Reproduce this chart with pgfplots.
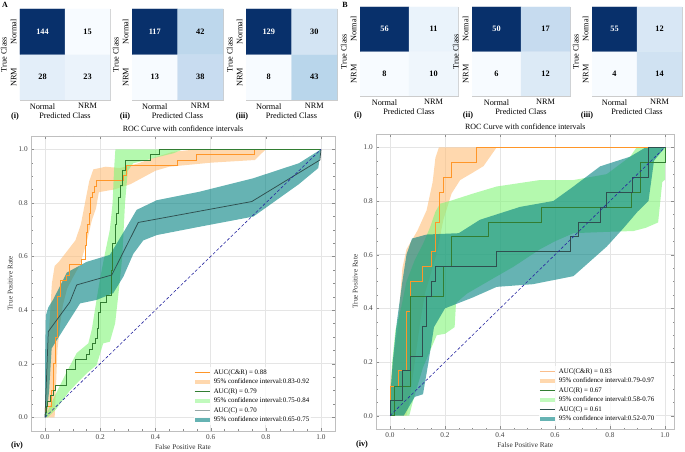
\documentclass[border=0pt]{standalone}
\usepackage{pgfplots}
\pgfplotsset{compat=1.18}
\usepackage{fontspec}
\setmainfont{Liberation Serif}
\definecolor{cOrange}{RGB}{255,150,40}
\definecolor{cOrangeBand}{RGB}{255,190,120}
\definecolor{cGreen}{RGB}{50,125,50}
\definecolor{cGreenBand}{RGB}{130,245,120}
\definecolor{cTeal}{RGB}{47,79,79}
\definecolor{cTealBand}{RGB}{0,128,128}
\definecolor{cDiag}{RGB}{40,40,160}
\definecolor{lOrangeBand}{RGB}{255,216,174}
\definecolor{lGreenBand}{RGB}{193,250,189}
\definecolor{lTealBand}{RGB}{102,179,179}
\definecolor{lOrangeB}{RGB}{250,190,140}
\pgfplotsset{
 colormap={blues}{rgb255=(247,251,255) rgb255=(222,235,247) rgb255=(198,219,239) rgb255=(158,202,225) rgb255=(107,174,214) rgb255=(66,146,198) rgb255=(33,113,181) rgb255=(8,81,156) rgb255=(8,48,107)},
 cm/.style={scale only axis, anchor=south west, xmin=-0.5,xmax=1.5,ymin=-0.5,ymax=1.5,
   xtick={0,1}, xticklabels={Normal,NRM}, ytick={0,1}, yticklabels={NRM,Normal},
   yticklabel style={rotate=90, anchor=south},
   xlabel={Predicted Class}, ylabel={True Class}, colormap name=blues,
   axis line style={black!20}, major tick style={draw=none},
   tick label style={font=\fontsize{8.3}{9}\selectfont},
   label style={font=\fontsize{8.3}{9}\selectfont},
   xlabel style={yshift=3pt}, ylabel style={yshift=-3pt}, enlargelimits=false},
 cmnum/.style={draw=none, mark=none, point meta=explicit symbolic, nodes near coords,
   nodes near coords align=center,
   every node near coord/.append style={font=\bfseries\fontsize{8.3}{9}\selectfont, text=#1}},
 roc/.style={scale only axis, anchor=south west, xmin=-0.05, ymin=-0.05, ymax=1.05,
   xtick={0,0.2,0.4,0.6,0.8,1}, ytick={0,0.2,0.4,0.6,0.8,1},
   xticklabels={0.0,0.2,0.4,0.6,0.8,1.0}, yticklabels={0.0,0.2,0.4,0.6,0.8,1.0},
   minor tick num=3, tick align=inside, grid=major,
   major grid style={black!10, line width=0.7pt}, axis line style={black!25},
   tick style={black!45}, major tick length=3pt, minor tick length=1.6pt,
   tick label style={font=\fontsize{7.3}{8}\selectfont, text=black!75},
   label style={font=\fontsize{7.3}{8}\selectfont, text=black!80},
   xlabel style={yshift=2pt}, ylabel style={yshift=-1pt},
   xlabel={False Positive Rate}, ylabel={True Positive Rate},
   title={ROC Curve with confidence intervals}, title style={font=\fontsize{8}{9}\selectfont, yshift=-5pt},
   legend cell align=left,
   legend style={draw=none, fill=white, fill opacity=0.8, text opacity=1, anchor=south west,
     font=\fontsize{6.9}{7.5}\selectfont, inner sep=0.5pt, nodes={inner sep=1.6pt},
     /tikz/every odd column/.append style={column sep=1.5pt}}},
 band/.style={forget plot, draw=none, fill=#1, fill opacity=0.6},
 rline/.style={forget plot, #1, line width=0.75pt},
}
\newcommand{\bandlegend}[1]{\addlegendimage{legend image code/.code={\fill[#1, fill opacity=1, draw=none] (0cm,-0.085cm) rectangle (0.55cm,0.085cm);}}}
\newcommand{\linelegend}[1]{\addlegendimage{legend image code/.code={\draw[color=#1, line width=0.75pt] (0cm,0cm) -- (0.55cm,0cm);}}}
\begin{document}
\begin{tikzpicture}
\path[use as bounding box] (0,0) rectangle (685bp,452bp);
% ---------- A confusion matrices ----------
\begin{axis}[cm, at={(20bp,352bp)}, width=90bp, height=91bp, point meta min=15, point meta max=144]
\addplot[matrix plot*, mesh/cols=2, point meta=explicit] coordinates {(0,0) [28] (1,0) [23] (0,1) [144] (1,1) [15]};
\addplot[cmnum=white] coordinates {(0,1) [144]};
\addplot[cmnum=black] coordinates {(1,1) [15] (0,0) [28] (1,0) [23]};
\end{axis}
\begin{axis}[cm, at={(132bp,352bp)}, width=91bp, height=91bp, point meta min=13, point meta max=117]
\addplot[matrix plot*, mesh/cols=2, point meta=explicit] coordinates {(0,0) [13] (1,0) [38] (0,1) [117] (1,1) [42]};
\addplot[cmnum=white] coordinates {(0,1) [117]};
\addplot[cmnum=black] coordinates {(1,1) [42] (0,0) [13] (1,0) [38]};
\end{axis}
\begin{axis}[cm, at={(246bp,352bp)}, width=91bp, height=91bp, point meta min=8, point meta max=129]
\addplot[matrix plot*, mesh/cols=2, point meta=explicit] coordinates {(0,0) [8] (1,0) [43] (0,1) [129] (1,1) [30]};
\addplot[cmnum=white] coordinates {(0,1) [129]};
\addplot[cmnum=black] coordinates {(1,1) [30] (0,0) [8] (1,0) [43]};
\end{axis}
% ---------- B confusion matrices ----------
\begin{axis}[cm, at={(360bp,356bp)}, width=98bp, height=89bp, point meta min=8, point meta max=56]
\addplot[matrix plot*, mesh/cols=2, point meta=explicit] coordinates {(0,0) [8] (1,0) [10] (0,1) [56] (1,1) [11]};
\addplot[cmnum=white] coordinates {(0,1) [56]};
\addplot[cmnum=black] coordinates {(1,1) [11] (0,0) [8] (1,0) [10]};
\end{axis}
\begin{axis}[cm, at={(472bp,356bp)}, width=98bp, height=89bp, point meta min=6, point meta max=50]
\addplot[matrix plot*, mesh/cols=2, point meta=explicit] coordinates {(0,0) [6] (1,0) [12] (0,1) [50] (1,1) [17]};
\addplot[cmnum=white] coordinates {(0,1) [50]};
\addplot[cmnum=black] coordinates {(1,1) [17] (0,0) [6] (1,0) [12]};
\end{axis}
\begin{axis}[cm, at={(592bp,356bp)}, width=90bp, height=89bp, point meta min=4, point meta max=55]
\addplot[matrix plot*, mesh/cols=2, point meta=explicit] coordinates {(0,0) [4] (1,0) [14] (0,1) [55] (1,1) [12]};
\addplot[cmnum=white] coordinates {(0,1) [55]};
\addplot[cmnum=black] coordinates {(1,1) [12] (0,0) [4] (1,0) [14]};
\end{axis}
% ---------- A ROC ----------
\begin{axis}[roc, at={(31.2bp,21.3bp)}, width=303.6bp, height=294.8bp, xmax=1.05,
  legend style={at={(0.535,0.018)}}]
\addplot[band=cOrangeBand] coordinates {(0,0) (0.003,0.1) (0.01,0.25) (0.018,0.38) (0.025,0.5) (0.035,0.565) (0.05,0.58) (0.08,0.62) (0.11,0.66) (0.13,0.72) (0.145,0.80) (0.16,0.88) (0.175,0.925) (0.22,0.935) (0.27,0.93) (0.33,0.945) (0.40,0.97) (0.46,0.99) (0.55,1.0) (0.8,1.0)
 (0.76,0.96) (0.60,0.95) (0.45,0.935) (0.40,0.92) (0.31,0.87) (0.25,0.85) (0.195,0.84) (0.185,0.78) (0.17,0.736) (0.15,0.65) (0.127,0.57) (0.10,0.52) (0.08,0.48) (0.065,0.42) (0.055,0.35) (0.045,0.25) (0.04,0.12) (0.035,0.0)};
\addplot[band=cGreenBand] coordinates {(0,0) (0.006,0.015) (0.04,0.09) (0.079,0.17) (0.115,0.24) (0.157,0.276) (0.17,0.33) (0.187,0.44) (0.20,0.52) (0.217,0.61) (0.235,0.70) (0.245,0.80) (0.25,0.92) (0.255,1.0) (0.5,1.0)
 (0.465,0.985) (0.405,0.97) (0.368,0.96) (0.32,0.948) (0.30,0.92) (0.29,0.8) (0.28,0.6) (0.265,0.45) (0.254,0.35) (0.235,0.282) (0.211,0.276) (0.187,0.195) (0.151,0.164) (0.09,0.10) (0.04,0.03) (0.01,0.0)};
\addplot[band=cTealBand] coordinates {(0,0) (0.0,0.2) (0.003,0.38) (0.012,0.41) (0.03,0.44) (0.079,0.54) (0.151,0.58) (0.235,0.606) (0.29,0.70) (0.332,0.774) (0.405,0.81) (0.561,0.842) (0.755,0.892) (0.92,0.948) (1,1)
 (0.99,0.93) (0.92,0.87) (0.755,0.749) (0.56,0.711) (0.405,0.68) (0.356,0.66) (0.32,0.61) (0.284,0.525) (0.247,0.463) (0.187,0.438) (0.127,0.425) (0.066,0.326) (0.024,0.257) (0.015,0.1) (0.005,0.0)};
\addplot[rline=cOrange] coordinates {(0,0) (0,0.04) (0.024,0.04) (0.024,0.1) (0.03,0.1) (0.03,0.2) (0.036,0.2) (0.036,0.3) (0.045,0.3) (0.045,0.45) (0.055,0.45) (0.055,0.51) (0.079,0.51) (0.079,0.53) (0.09,0.53) (0.09,0.57) (0.133,0.57) (0.133,0.59) (0.145,0.59) (0.145,0.64) (0.15,0.64) (0.15,0.69) (0.155,0.69) (0.155,0.72) (0.16,0.72) (0.16,0.76) (0.165,0.76) (0.165,0.82) (0.17,0.82) (0.17,0.84) (0.18,0.84) (0.18,0.86) (0.187,0.86) (0.187,0.883) (0.284,0.883) (0.284,0.904) (0.294,0.904) (0.294,0.94) (0.48,0.94) (0.48,0.96) (0.55,0.96) (0.55,0.98) (0.76,0.98) (0.76,1) (1,1)};
\addplot[rline=cGreen] coordinates {(0,0) (0,0.02) (0.005,0.02) (0.005,0.04) (0.01,0.04) (0.01,0.06) (0.02,0.06) (0.02,0.08) (0.03,0.08) (0.03,0.10) (0.036,0.10) (0.036,0.12) (0.079,0.12) (0.079,0.18) (0.109,0.18) (0.109,0.215) (0.151,0.215) (0.151,0.235) (0.16,0.235) (0.16,0.255) (0.17,0.255) (0.17,0.275) (0.181,0.275) (0.181,0.295) (0.188,0.295) (0.188,0.33) (0.193,0.33) (0.193,0.39) (0.199,0.39) (0.199,0.43) (0.224,0.43) (0.224,0.455) (0.242,0.455) (0.242,0.55) (0.244,0.55) (0.244,0.65) (0.254,0.65) (0.254,0.72) (0.258,0.72) (0.258,0.76) (0.265,0.76) (0.265,0.82) (0.272,0.82) (0.272,0.865) (0.28,0.865) (0.28,0.92) (0.29,0.92) (0.29,0.96) (0.383,0.96) (0.383,0.98) (0.413,0.98) (0.413,1.0) (1,1)};
\addplot[rline=cTeal] coordinates {(0,0) (0.012,0.32) (0.09,0.43) (0.115,0.494) (0.242,0.531) (0.338,0.727) (0.749,0.805) (0.996,0.96) (1,1)};
\addplot[forget plot, cDiag, densely dashed, line width=0.6pt] coordinates {(0,0) (1,1)};
\linelegend{cOrange}
\addlegendentry{AUC(C\&R) = 0.88}
\bandlegend{lOrangeBand}
\addlegendentry{95\% confidence interval:0.83-0.92}
\linelegend{cGreen}
\addlegendentry{AUC(R) = 0.79}
\bandlegend{lGreenBand}
\addlegendentry{95\% confidence interval:0.75-0.84}
\linelegend{cTeal!50}
\addlegendentry{AUC(C) = 0.70}
\bandlegend{lTealBand}
\addlegendentry{95\% confidence interval:0.65-0.75}
\end{axis}
% ---------- B ROC ----------
\begin{axis}[roc, at={(376.25bp,22.9bp)}, width=298.1bp, height=295.2bp, xmax=1.034,
  legend style={at={(0.545,0.016)}}]
\addplot[band=cOrangeBand] coordinates {(0,0) (0,0.11) (0.012,0.21) (0.03,0.33) (0.036,0.43) (0.045,0.55) (0.06,0.62) (0.10,0.69) (0.133,0.765) (0.155,0.87) (0.165,0.96) (0.178,1.0) (0.388,1.0)
 (0.34,0.93) (0.30,0.905) (0.255,0.878) (0.224,0.828) (0.194,0.73) (0.17,0.605) (0.145,0.518) (0.127,0.455) (0.11,0.35) (0.09,0.2) (0.07,0.05) (0.06,0.0)};
\addplot[band=cGreenBand] coordinates {(0,0) (0,0.05) (0.008,0.2) (0.02,0.32) (0.04,0.40) (0.06,0.50) (0.09,0.58) (0.12,0.64) (0.145,0.70) (0.165,0.76) (0.182,0.79) (0.218,0.80) (0.303,0.828) (0.388,0.854) (0.545,0.878) (0.667,0.878) (0.788,0.90) (0.873,0.965) (0.897,1.0) (1.0,1.0)
 (1.0,0.88) (0.99,0.87) (0.975,0.72) (0.93,0.70) (0.885,0.688) (0.788,0.685) (0.667,0.68) (0.6,0.65) (0.545,0.62) (0.449,0.555) (0.364,0.505) (0.28,0.455) (0.24,0.42) (0.235,0.33) (0.20,0.305) (0.17,0.30) (0.12,0.18) (0.085,0.06) (0.07,0.0)};
\addplot[band=cTealBand] coordinates {(0,0) (0,0.06) (0.01,0.2) (0.025,0.35) (0.045,0.50) (0.06,0.60) (0.08,0.66) (0.133,0.675) (0.25,0.68) (0.327,0.73) (0.473,0.778) (0.594,0.80) (0.667,0.854) (0.764,0.929) (0.873,0.965) (0.93,1.0) (1,1)
 (0.96,0.95) (0.94,0.80) (0.90,0.76) (0.85,0.70) (0.788,0.63) (0.667,0.52) (0.52,0.49) (0.388,0.48) (0.3,0.44) (0.2,0.40) (0.16,0.33) (0.14,0.2) (0.12,0.08) (0.09,0.07) (0.05,0.0)};
\addplot[rline=cOrange] coordinates {(0,0) (0,0.111) (0.03,0.111) (0.03,0.167) (0.058,0.167) (0.058,0.389) (0.075,0.389) (0.075,0.5) (0.118,0.5) (0.118,0.556) (0.15,0.556) (0.15,0.611) (0.165,0.611) (0.165,0.722) (0.18,0.722) (0.18,0.833) (0.195,0.833) (0.195,0.889) (0.224,0.889) (0.224,0.944) (0.315,0.944) (0.315,1.0) (1,1)};
\addplot[rline=cGreen] coordinates {(0,0) (0.015,0) (0.015,0.111) (0.073,0.111) (0.073,0.444) (0.194,0.444) (0.194,0.556) (0.224,0.556) (0.224,0.667) (0.358,0.667) (0.358,0.722) (0.552,0.722) (0.552,0.778) (0.879,0.778) (0.879,0.833) (0.909,0.833) (0.909,0.944) (1.0,0.944) (1.0,1.0)};
\addplot[rline=cTeal] coordinates {(0,0) (0,0.056) (0.045,0.056) (0.045,0.167) (0.075,0.167) (0.075,0.222) (0.118,0.222) (0.118,0.333) (0.133,0.333) (0.133,0.444) (0.149,0.444) (0.149,0.5) (0.164,0.5) (0.164,0.556) (0.388,0.556) (0.388,0.611) (0.655,0.611) (0.655,0.667) (0.685,0.667) (0.685,0.722) (0.764,0.722) (0.764,0.778) (0.788,0.778) (0.788,0.833) (0.883,0.833) (0.883,0.889) (0.94,0.889) (0.94,1.0) (1,1)};
\addplot[forget plot, cDiag, densely dashed, line width=0.6pt] coordinates {(0,0) (1,1)};
\linelegend{lOrangeB}
\addlegendentry{AUC(C\&R) = 0.83}
\bandlegend{lOrangeBand}
\addlegendentry{95\% confidence interval:0.79-0.97}
\linelegend{cGreen}
\addlegendentry{AUC(R) = 0.67}
\bandlegend{lGreenBand}
\addlegendentry{95\% confidence interval:0.58-0.76}
\linelegend{cTeal}
\addlegendentry{AUC(C) = 0.61}
\bandlegend{lTealBand}
\addlegendentry{95\% confidence interval:0.52-0.70}
\end{axis}
% ---------- panel labels ----------
\node[font=\bfseries\fontsize{8}{9}\selectfont] at (5bp,447bp) {A};
\node[font=\bfseries\fontsize{8}{9}\selectfont] at (345bp,447bp) {B};
\node[font=\bfseries\fontsize{8.3}{9}\selectfont] at (15bp,335bp) {(i)};
\node[font=\bfseries\fontsize{8.3}{9}\selectfont] at (125bp,335bp) {(ii)};
\node[font=\bfseries\fontsize{8.3}{9}\selectfont] at (242bp,335bp) {(iii)};
\node[font=\bfseries\fontsize{8.3}{9}\selectfont] at (358bp,336bp) {(i)};
\node[font=\bfseries\fontsize{8.3}{9}\selectfont] at (468bp,336bp) {(ii)};
\node[font=\bfseries\fontsize{8.3}{9}\selectfont] at (587bp,336bp) {(iii)};
\node[font=\bfseries\fontsize{8.3}{9}\selectfont] at (17bp,6bp) {(iv)};
\node[font=\bfseries\fontsize{8.3}{9}\selectfont] at (362bp,7bp) {(iv)};
\end{tikzpicture}
\end{document}
